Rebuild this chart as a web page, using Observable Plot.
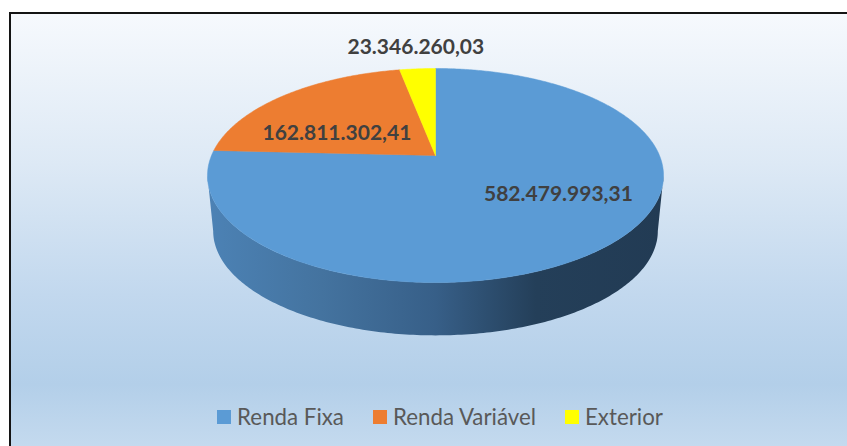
<!DOCTYPE html>
<html>
<head>
<meta charset="utf-8">
<script src="https://cdn.jsdelivr.net/npm/d3@7"></script>
<script src="https://cdn.jsdelivr.net/npm/@observablehq/plot@0.6"></script>
<style>
  html, body { margin: 0; padding: 0; background: #ffffff; width: 847px; height: 446px; overflow: hidden; }
  #frame {
    position: absolute; left: 9px; top: 12px; width: 900px; height: 460px;
    border: 2px solid #141414; box-sizing: border-box;
    background: linear-gradient(to bottom, #f6f9fd 0px, #dde9f5 150px, #c2d8ee 280px, #b3cfe9 370px, #c6dbef 440px);
  }
  #chart { position: absolute; left: 0; top: 0; }
  #legend {
    position: absolute; top: 403px; left: 0; width: 880px;
    display: flex; justify-content: center; align-items: center;
    font-family: Lato, "Open Sans", sans-serif; font-size: 22.3px; color: #595959;
  }
  .item { display: flex; align-items: center; margin: 0 14.5px; }
  .sw { width: 14px; height: 14px; margin-right: 6px; }
</style>
</head>
<body>
<div id="frame"></div>
<div id="chart"></div>
<div id="legend"></div>
<script>
// ---- data ----
const categories = ["Renda Fixa", "Renda Variável", "Exterior"];
const values = [582479993.31, 162811302.41, 23346260.03];
const labels = ["582.479.993,31", "162.811.302,41", "23.346.260,03"];
const colors = ["#5b9bd5", "#ed7d31", "#ffff00"];

// ---- layout (3D perspective pie) ----
const W = 847, H = 446;
const cx = 435, cy = 155, a = 224, b = 103.3, k = 0.187, depth = 56, bottomScale = 0.975;
const labelLayout = [ {r: 0.75, dx: -6, dy: -24}, {r: 0.6, dx: -4, dy: 16}, {r: 1.25, dx: 2, dy: -4} ];

function proj(phi, r = 1, level = 0) {
  const X = Math.sin(phi) * r, Z = -Math.cos(phi) * r;
  const s = 1 / (1 - k * Z);
  const sc = level ? bottomScale : 1;
  return [cx + a * sc * X * s, cy + depth * level + b * sc * Z * s];
}

const arcs = d3.pie().sort(null).value(d => d)(values);

// top faces
const slicePts = arcs.map((arc, i) => {
  const pts = [{x: cx, y: cy}];
  const n = Math.max(4, Math.ceil((arc.endAngle - arc.startAngle) / 0.01));
  for (let j = 0; j <= n; j++) {
    const p = proj(arc.startAngle + (arc.endAngle - arc.startAngle) * j / n);
    pts.push({x: p[0], y: p[1]});
  }
  pts.push({x: cx, y: cy});
  return pts;
});

// front side wall (visible part)
const phiR = Math.acos(-k), phiL = 2 * Math.PI - Math.acos(-k);
const side = [];
const m = 200;
for (let j = 0; j <= m; j++) { const p = proj(phiR + (phiL - phiR) * j / m, 1, 0); side.push({x: p[0], y: p[1]}); }
for (let j = m; j >= 0; j--) { const p = proj(phiR + (phiL - phiR) * j / m, 1, 1); side.push({x: p[0], y: p[1]}); }

// labels
const labelData = arcs.map((arc, i) => {
  const mid = (arc.startAngle + arc.endAngle) / 2;
  const L = labelLayout[i];
  const p = proj(mid, L.r);
  return {x: p[0] + L.dx, y: p[1] + L.dy, text: labels[i]};
});

const defs = () => {
  const g = d3.create("svg:defs");
  const lg = g.append("linearGradient").attr("id", "sideGrad").attr("x1", 0).attr("x2", 1).attr("y1", 0).attr("y2", 0);
  [[0, "#4c82b5"], [0.25, "#44739f"], [0.5, "#375f88"], [0.72, "#243f59"], [1, "#223b54"]]
    .forEach(([o, c]) => lg.append("stop").attr("offset", o).attr("stop-color", c));
  return g.node();
};

const marks = [
  defs,
  Plot.line(side, {x: "x", y: "y", fill: "url(#sideGrad)", stroke: "none"}),
  ...slicePts.map((pts, i) => Plot.line(pts, {x: "x", y: "y", fill: colors[i], stroke: colors[i], strokeWidth: 0.5})),
  Plot.text(labelData, {x: "x", y: "y", text: "text", fill: "#404040", fontSize: 21, fontWeight: "bold", fontFamily: "Lato, 'Open Sans', sans-serif"})
];

const chart = Plot.plot({
  width: W, height: H, margin: 0,
  x: {domain: [0, W], axis: null},
  y: {domain: [H, 0], axis: null},
  style: {background: "transparent", overflow: "visible"},
  marks
});
document.getElementById("chart").appendChild(chart);

// legend
const legend = document.getElementById("legend");
categories.forEach((c, i) => {
  const it = document.createElement("div"); it.className = "item";
  const sw = document.createElement("div"); sw.className = "sw"; sw.style.background = colors[i];
  const t = document.createElement("span"); t.textContent = c;
  it.appendChild(sw); it.appendChild(t); legend.appendChild(it);
});
</script>
</body>
</html>
